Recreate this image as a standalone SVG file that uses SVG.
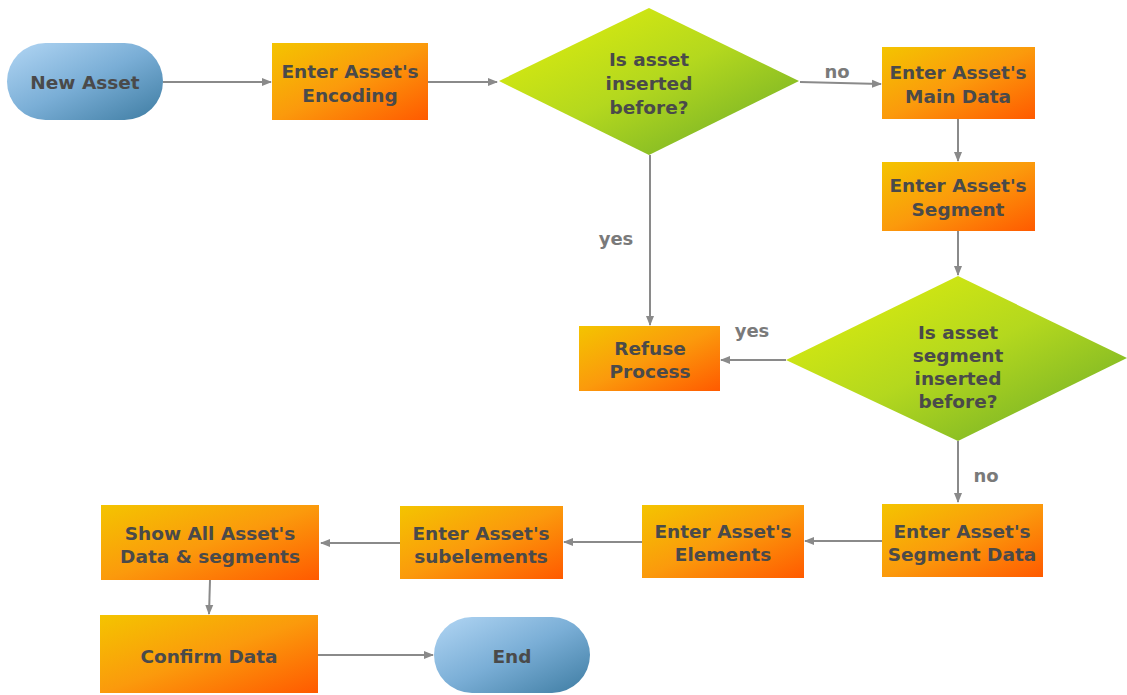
<svg xmlns="http://www.w3.org/2000/svg" width="1127" height="695" viewBox="0 0 1127 695">
  <defs>
    <linearGradient id="gOrange" x1="0" y1="0" x2="1" y2="1">
      <stop offset="0" stop-color="#f4c400"/>
      <stop offset="0.5" stop-color="#fb9a0c"/>
      <stop offset="1" stop-color="#ff5a00"/>
    </linearGradient>
    <linearGradient id="gGreen" x1="0" y1="0" x2="1" y2="1">
      <stop offset="0" stop-color="#e4f00a"/>
      <stop offset="0.5" stop-color="#b4d81e"/>
      <stop offset="1" stop-color="#66a82a"/>
    </linearGradient>
    <linearGradient id="gBlue" x1="0" y1="0" x2="1" y2="1">
      <stop offset="0" stop-color="#b2d6f4"/>
      <stop offset="0.5" stop-color="#7aaed6"/>
      <stop offset="1" stop-color="#3e7ca2"/>
    </linearGradient>
    <marker id="arrow" viewBox="0 0 10 10" refX="9" refY="5" markerWidth="10" markerHeight="10" markerUnits="userSpaceOnUse" orient="auto">
      <path d="M0,1 L10,5 L0,9 z" fill="#8a8a8a"/>
    </marker>
  </defs>
  <style>
    .box { fill: url(#gOrange); }
    .dec { fill: url(#gGreen); }
    .term { fill: url(#gBlue); }
    .lbl { font-family: "DejaVu Sans", Verdana, sans-serif; font-weight: bold; font-size: 18.5px; fill: #4a4a4a; text-anchor: middle; }
    .cond { font-family: "DejaVu Sans", Verdana, sans-serif; font-weight: bold; font-size: 18px; fill: #7a7a7a; text-anchor: middle; }
    .edge { stroke: #8a8a8a; stroke-width: 2; fill: none; marker-end: url(#arrow); }
  </style>
  <rect width="1127" height="695" fill="#ffffff"/>

  <g id="connectors">
    <line class="edge" x1="163" y1="82" x2="271" y2="82"/>
    <line class="edge" x1="428" y1="82" x2="497" y2="82"/>
    <line class="edge" x1="800" y1="82" x2="881" y2="84"/>
    <line class="edge" x1="958" y1="119" x2="958" y2="161"/>
    <line class="edge" x1="958" y1="231" x2="958" y2="275"/>
    <line class="edge" x1="650" y1="155" x2="650" y2="325"/>
    <line class="edge" x1="786" y1="360" x2="721" y2="360"/>
    <line class="edge" x1="958" y1="441" x2="958" y2="502"/>
    <line class="edge" x1="882" y1="541" x2="805" y2="541"/>
    <line class="edge" x1="642" y1="542" x2="564" y2="542"/>
    <line class="edge" x1="400" y1="543" x2="321" y2="543"/>
    <line class="edge" x1="210" y1="580" x2="209" y2="614"/>
    <line class="edge" x1="318" y1="655" x2="433" y2="655"/>
    <text class="cond" x="837" y="78">no</text>
    <text class="cond" x="616" y="245">yes</text>
    <text class="cond" x="752" y="337">yes</text>
    <text class="cond" x="986" y="482">no</text>
  </g>

  <g id="new-asset">
    <rect class="term" x="7" y="43" width="156" height="77" rx="38.5"/>
    <text class="lbl" x="85" y="89">New Asset</text>
  </g>

  <g id="enter-encoding">
    <rect class="box" x="272" y="43" width="156" height="77"/>
    <text class="lbl" x="350" y="78">Enter Asset's</text>
    <text class="lbl" x="350" y="102">Encoding</text>
  </g>

  <g id="check-asset">
    <polygon class="dec" points="649,8 799,81 649,155 499,81"/>
    <text class="lbl" x="649" y="66">Is asset</text>
    <text class="lbl" x="649" y="90">inserted</text>
    <text class="lbl" x="649" y="114">before?</text>
  </g>

  <g id="enter-main-data">
    <rect class="box" x="882" y="47" width="153" height="72"/>
    <text class="lbl" x="958" y="79">Enter Asset's</text>
    <text class="lbl" x="958" y="103">Main Data</text>
  </g>

  <g id="enter-segment">
    <rect class="box" x="882" y="162" width="153" height="69"/>
    <text class="lbl" x="958" y="192">Enter Asset's</text>
    <text class="lbl" x="958" y="216">Segment</text>
  </g>

  <g id="check-segment">
    <polygon class="dec" points="958,276 1127,358 958,441 786,360"/>
    <text class="lbl" x="958" y="339">Is asset</text>
    <text class="lbl" x="958" y="362">segment</text>
    <text class="lbl" x="958" y="385">inserted</text>
    <text class="lbl" x="958" y="408">before?</text>
  </g>

  <g id="refuse-process">
    <rect class="box" x="579" y="326" width="141" height="65"/>
    <text class="lbl" x="650" y="355">Refuse</text>
    <text class="lbl" x="650" y="378">Process</text>
  </g>

  <g id="enter-segment-data">
    <rect class="box" x="882" y="504" width="161" height="73"/>
    <text class="lbl" x="962" y="538">Enter Asset's</text>
    <text class="lbl" x="962" y="561">Segment Data</text>
  </g>

  <g id="enter-elements">
    <rect class="box" x="642" y="505" width="162" height="73"/>
    <text class="lbl" x="723" y="538">Enter Asset's</text>
    <text class="lbl" x="723" y="561">Elements</text>
  </g>

  <g id="enter-subelements">
    <rect class="box" x="400" y="506" width="163" height="73"/>
    <text class="lbl" x="481" y="540">Enter Asset's</text>
    <text class="lbl" x="481" y="563">subelements</text>
  </g>

  <g id="show-all">
    <rect class="box" x="101" y="505" width="218" height="75"/>
    <text class="lbl" x="210" y="540">Show All Asset's</text>
    <text class="lbl" x="210" y="563">Data &amp; segments</text>
  </g>

  <g id="confirm-data">
    <rect class="box" x="100" y="615" width="218" height="78"/>
    <text class="lbl" x="209" y="663">Confirm Data</text>
  </g>

  <g id="end">
    <rect class="term" x="434" y="617" width="156" height="76" rx="38"/>
    <text class="lbl" x="512" y="663">End</text>
  </g>
</svg>
